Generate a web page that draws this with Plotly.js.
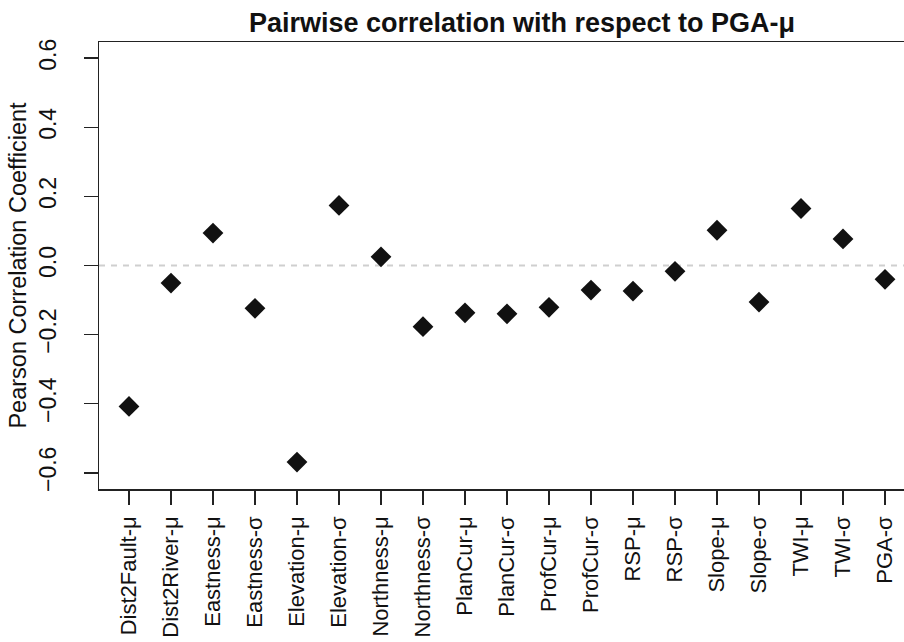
<!DOCTYPE html>
<html>
<head>
<meta charset="utf-8">
<script src="https://cdn.plot.ly/plotly-3.0.1.min.js"></script>
<style>html,body{margin:0;padding:0;background:#fff;}#chart{width:904px;height:642px;}</style>
</head>
<body>
<div id="chart"></div>
<script>
var categories = ["Dist2Fault-μ","Dist2River-μ","Eastness-μ","Eastness-σ","Elevation-μ","Elevation-σ",
  "Northness-μ","Northness-σ","PlanCur-μ","PlanCur-σ","ProfCur-μ","ProfCur-σ",
  "RSP-μ","RSP-σ","Slope-μ","Slope-σ","TWI-μ","TWI-σ","PGA-σ"];
var correlation = [-0.408,-0.051,0.094,-0.124,-0.569,0.174,
  0.025,-0.177,-0.137,-0.140,-0.121,-0.071,
  -0.074,-0.017,0.102,-0.106,0.165,0.077,-0.040];
var yTicks = [-0.6,-0.4,-0.2,0.0,0.2,0.4,0.6];
var yTickText = ["\u22120.6","\u22120.4","\u22120.2","0.0","0.2","0.4","0.6"];

var font = "Liberation Sans, Arial, Helvetica, sans-serif";
var trace = {
  type: "scatter", mode: "markers",
  x: categories, y: correlation,
  marker: {symbol: "diamond", size: 16, color: "#111111", line: {width: 0}},
  hoverinfo: "x+y"
};
var layout = {
  width: 904, height: 642,
  margin: {l: 99, r: 0, t: 42, b: 153},
  paper_bgcolor: "#ffffff", plot_bgcolor: "#ffffff",
  showlegend: false,
  font: {family: font, size: 22, color: "#111111"},
  title: {
    text: "Pairwise correlation with respect to PGA-μ",
    font: {family: font, size: 27, weight: "bold", color: "#111111"},
    x: 522/904, xanchor: "center", xref: "container",
    y: 1 - 23/642, yanchor: "middle", yref: "container"
  },
  xaxis: {
    type: "category",
    range: [-0.714, 18.452],
    showgrid: false, zeroline: false,
    showline: true, mirror: true, linecolor: "#222222", linewidth: 1.5,
    ticks: "outside", ticklen: 14, tickwidth: 1.5, tickcolor: "#222222",
    tickangle: -90, ticklabelstandoff: 3,
    tickfont: {family: font, size: 22, color: "#111111"},
    automargin: false
  },
  yaxis: {
    range: [-0.647, 0.647],
    showgrid: false, zeroline: false,
    showline: true, linecolor: "#222222", linewidth: 1.5,
    ticks: "outside", ticklen: 14, tickwidth: 1.5, tickcolor: "#222222",
    tickmode: "array", tickvals: yTicks, ticktext: yTickText,
    tickangle: -90, ticklabelstandoff: 18,
    tickfont: {family: font, size: 23, color: "#111111"},
    title: {text: "Pearson Correlation Coefficient", font: {family: font, size: 23.5, color: "#111111"}, standoff: 2},
    automargin: false
  },
  shapes: [{
    type: "line", xref: "paper", x0: 0, x1: 1, yref: "y", y0: 0, y1: 0,
    line: {color: "#cfcfcf", width: 2, dash: "6px,6px"}, layer: "below"
  }]
};
Plotly.newPlot("chart", [trace], layout, {displayModeBar: false, staticPlot: true});
</script>
</body>
</html>
